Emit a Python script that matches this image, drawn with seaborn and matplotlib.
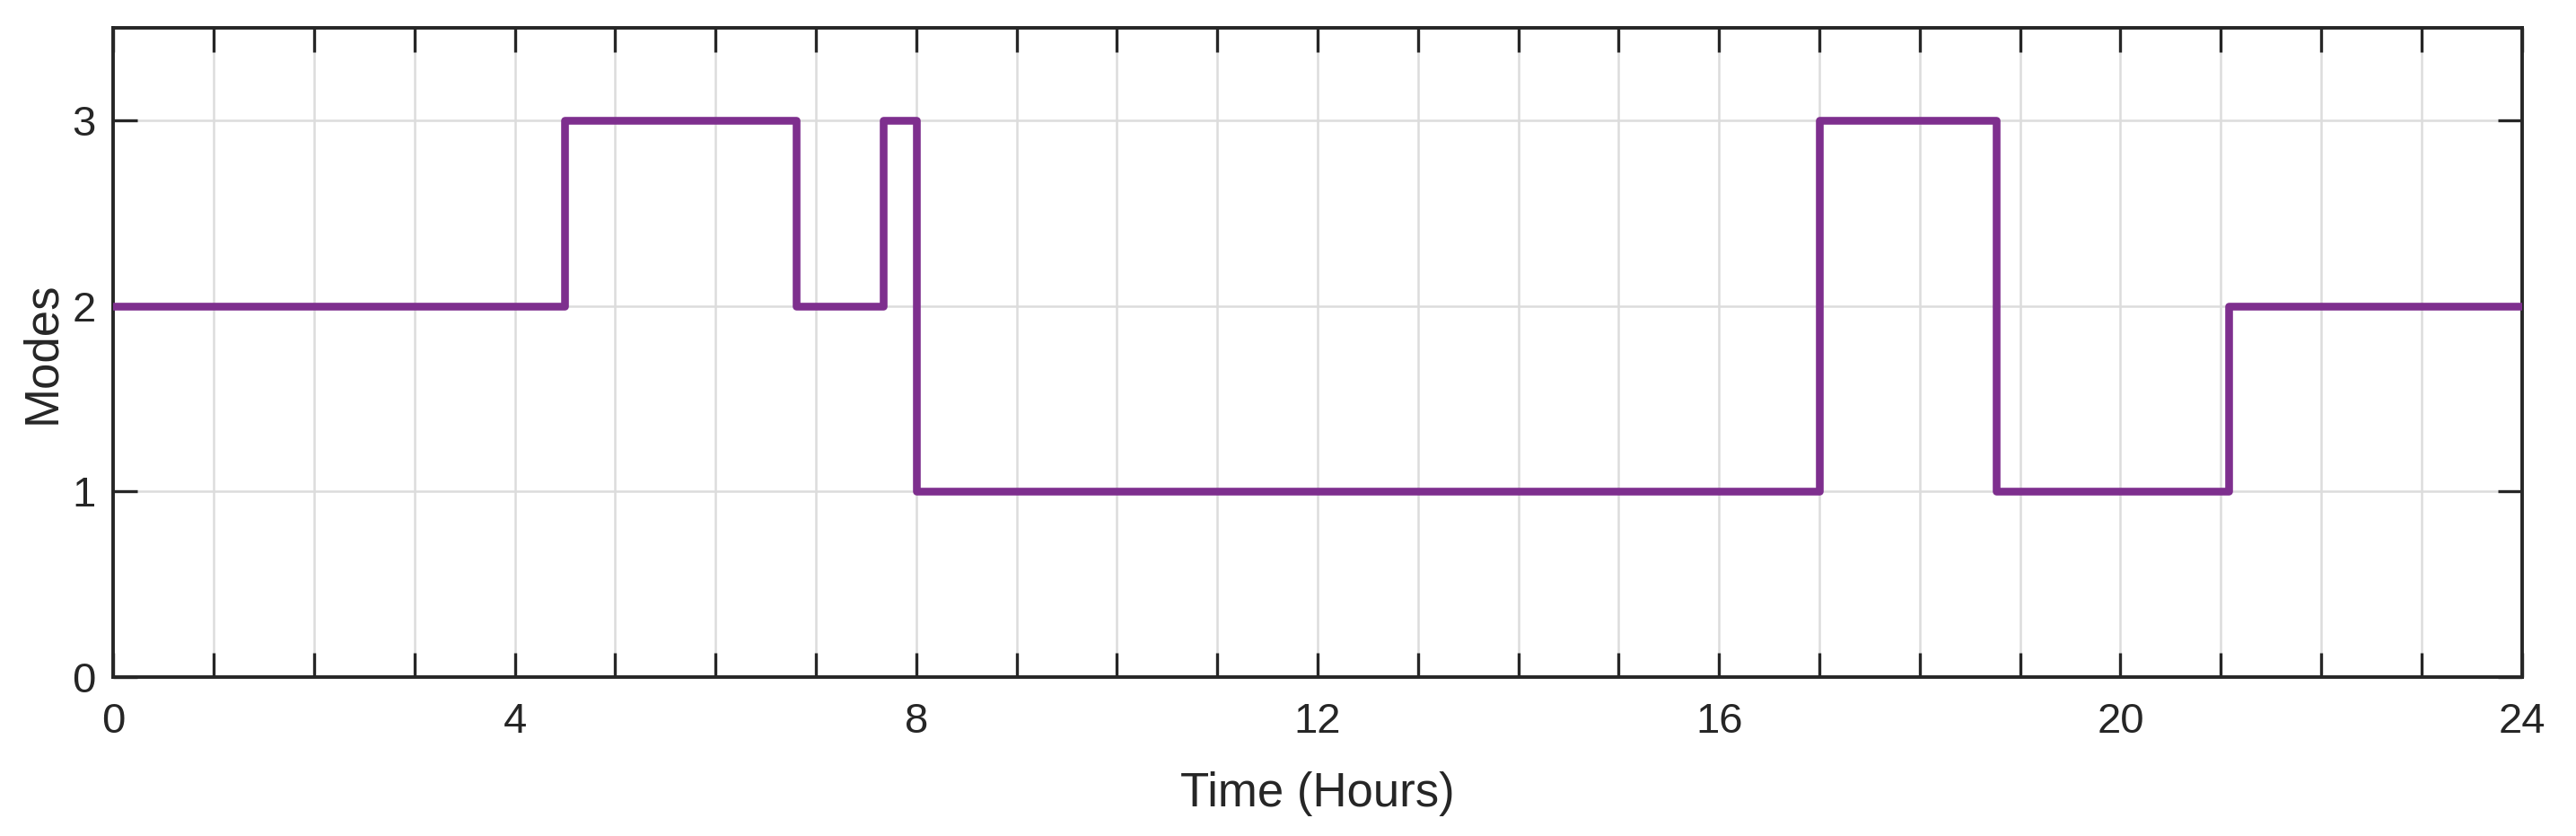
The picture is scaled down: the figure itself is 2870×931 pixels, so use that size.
import matplotlib
matplotlib.use("Agg")
import matplotlib.pyplot as plt
import seaborn as sns
import pandas as pd

# Modo de operacion a lo largo del dia (cambios escalonados)
hours = [0.0, 4.5, 6.8, 7.67, 8.0, 17.0, 18.76, 21.08, 24.0]
modes = [2, 3, 2, 3, 1, 3, 1, 2, 2]

x_ticks = list(range(0, 25))
x_labels = [str(h) if h % 4 == 0 else "" for h in x_ticks]
y_ticks = [0, 1, 2, 3]

LINE_COLOR = "#7E2F8E"
TEXT_COLOR = "#262626"

sns.set_theme(style="white")
plt.rcParams["font.family"] = ["Liberation Sans", "DejaVu Sans"]

df = pd.DataFrame({"Time": hours, "Mode": modes})

fig, ax = plt.subplots(figsize=(14.35, 4.655), dpi=200)
fig.subplots_adjust(left=0.044, right=0.979, top=0.967, bottom=0.19)

sns.lineplot(data=df, x="Time", y="Mode", ax=ax, color=LINE_COLOR,
             linewidth=3.1, drawstyle="steps-post", zorder=3)

ax.set_xlim(0, 24)
ax.set_ylim(0, 3.5)
ax.set_xticks(x_ticks)
ax.set_xticklabels(x_labels)
ax.set_yticks(y_ticks)

ax.set_axisbelow(True)
ax.grid(True, color="#dcdcdc", linewidth=0.9)

ax.tick_params(direction="in", bottom=True, left=True, top=True, right=True,
               length=9.7, width=1.2, colors=TEXT_COLOR, labelsize=17, pad=10)
ax.tick_params(axis="y", pad=7)

for sp in ax.spines.values():
    sp.set_color(TEXT_COLOR)
    sp.set_linewidth(1.4)

ax.set_xlabel("Time (Hours)", fontsize=19, color=TEXT_COLOR, labelpad=12)
ax.set_ylabel("Modes", fontsize=19, color=TEXT_COLOR, labelpad=3)

fig.savefig("out.png", dpi=200, facecolor="white")
